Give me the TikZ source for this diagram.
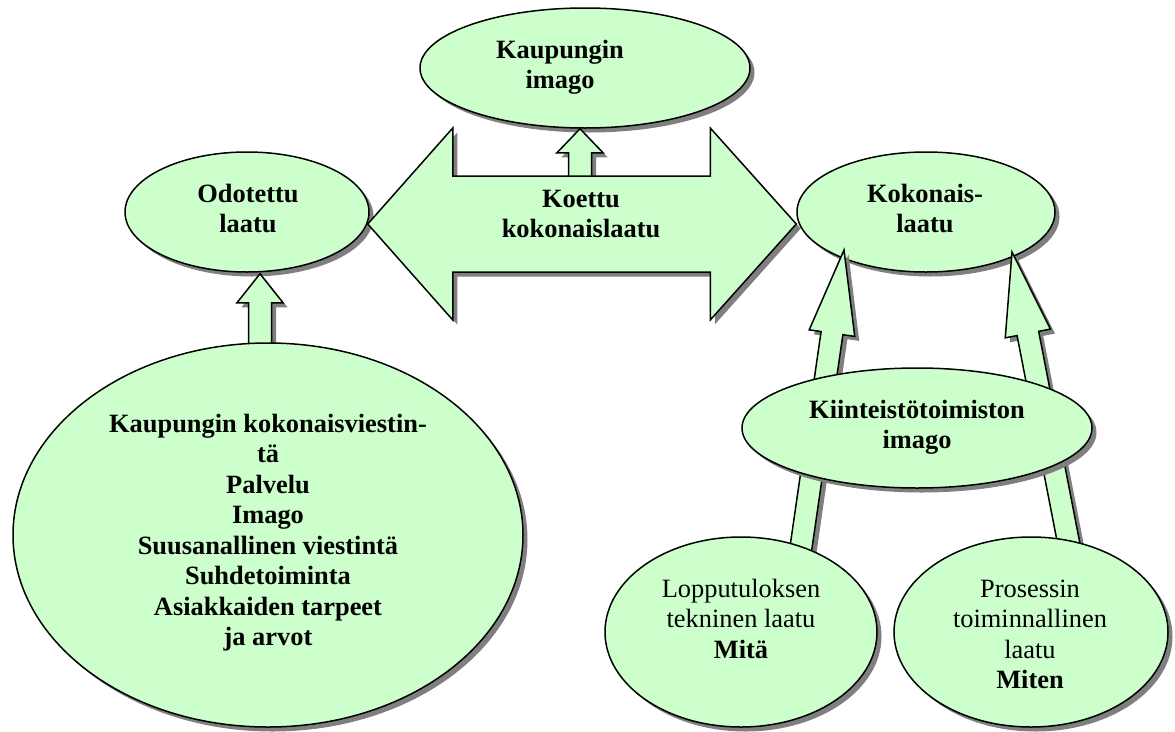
\documentclass[tikz,border=0pt]{standalone}
\usepackage{fontspec}
\setmainfont{Liberation Serif}
\usetikzlibrary{shapes.geometric,shadows,calc}

\definecolor{leaf}{HTML}{CCFFCC}
\definecolor{shade}{HTML}{7F7F7F}

\pgfdeclarelayer{under}
\pgfdeclarelayer{arrows}
\pgfsetlayers{under,arrows,main}

\tikzset{
  boxshadow/.style={drop shadow={shadow xshift=4.5pt, shadow yshift=-4.5pt, fill=shade, opacity=1}},
  bubble/.style={ellipse, draw=black, line width=1.5pt, fill=leaf, inner sep=0pt, boxshadow},
  blockarrow/.style={draw=black, line width=1.5pt, fill=leaf, line join=miter, boxshadow},
  caption/.style={anchor=base, inner sep=0pt, font=\fontsize{26.4}{30.5}\selectfont},
}

% block arrow from #1 to tip #2: shaft half width #3, head half width #4, head length #5
\newcommand{\blockarrowpath}[5]{%
  \coordinate (ba) at ($(#2)!#5!(#1)$);
  \draw[blockarrow] ($(#1)!#3!-90:(#2)$) -- ($(ba)!#3!90:(#1)$) -- ($(ba)!#4!90:(#1)$)
    -- (#2) -- ($(ba)!#4!-90:(#1)$) -- ($(ba)!#3!-90:(#1)$) -- ($(#1)!#3!90:(#2)$) -- cycle;
}

\begin{document}
\begin{tikzpicture}[x=1pt,y=-1pt]
\useasboundingbox (0,0) rectangle (1175,731);

% ellipses that the arrows overlap
\begin{pgfonlayer}{under}
  \node[bubble, minimum width=330pt, minimum height=120pt] (kaupunki) at (585,68) {};
  \node[bubble, minimum width=244pt, minimum height=120pt] (odotettu) at (247,212) {};
  \node[bubble, minimum width=258pt, minimum height=120pt] (kokonais) at (926,212) {};
\end{pgfonlayer}

% ellipses drawn over the arrows
\node[bubble, minimum width=350pt, minimum height=120pt] (kiinteisto) at (917,428) {};
\node[bubble, minimum width=510pt, minimum height=384pt] (viestinta) at (268,535) {};
\node[bubble, minimum width=272pt, minimum height=190pt] (lopputulos) at (741,632) {};
\node[bubble, minimum width=274pt, minimum height=190pt] (prosessi) at (1031,632) {};

% arrows
\begin{pgfonlayer}{arrows}
  % Koettu -> Kaupungin imago
  \coordinate (kk-s) at (580,195);
  \coordinate (kk-t) at ($(kaupunki.south)+(-5,0)$);
  \blockarrowpath{kk-s}{kk-t}{11.5pt}{23pt}{24pt}

  % double arrow between Odotettu laatu and Kokonaislaatu
  \coordinate (dl) at ($(odotettu.east)+(-2,12)$);
  \coordinate (dr) at ($(kokonais.west)+(0,12)$);
  \draw[blockarrow] (dl) -- ++(85,-96) -- ++(0,48) -- ($(dr)+(-86,-48)$) -- ++(0,-48)
    -- (dr) -- ++(-86,96) -- ++(0,-48) -- ($(dl)+(85,48)$) -- ++(0,48) -- cycle;

  % viestinta -> Odotettu laatu
  \coordinate (vo-s) at ($(viestinta.north)+(-8,9)$);
  \coordinate (vo-t) at ($(odotettu.south)+(13,1)$);
  \blockarrowpath{vo-s}{vo-t}{11.5pt}{23pt}{29pt}

  % lower ellipses -> Kokonaislaatu
  \coordinate (lk-s) at ($(lopputulos.center)+(58.6,-75)$);
  \coordinate (lk-t) at ($(kokonais.center)+(-82,38)$);
  \blockarrowpath{lk-s}{lk-t}{11pt}{23pt}{84pt}
  \coordinate (pk-s) at ($(prosessi.center)+(39,-82)$);
  \coordinate (pk-t) at ($(kokonais.center)+(86,40)$);
  \blockarrowpath{pk-s}{pk-t}{11pt}{23pt}{83pt}
\end{pgfonlayer}

% texts
\node[caption] (kaupunki-t) at (560,58) {\bfseries\begin{tabular}[t]{@{}c@{}}Kaupungin\\imago\end{tabular}};
\node[caption] (odotettu-t) at (248,202) {\bfseries\begin{tabular}[t]{@{}c@{}}Odotettu\\laatu\end{tabular}};
\node[caption] (kokonais-t) at (925,202) {\bfseries\begin{tabular}[t]{@{}c@{}}Kokonais-\\laatu\end{tabular}};
\node[caption] (koettu-t) at (581,207) {\bfseries\begin{tabular}[t]{@{}c@{}}Koettu\\kokonaislaatu\end{tabular}};
\node[caption] (kiinteisto-t) at (917,418) {\bfseries\begin{tabular}[t]{@{}c@{}}Kiinteistötoimiston\\imago\end{tabular}};
\node[caption] (viestinta-t) at (268,432) {\bfseries\begin{tabular}[t]{@{}c@{}}Kaupungin kokonaisviestin-\\tä\\Palvelu\\Imago\\Suusanallinen viestintä\\Suhdetoiminta\\Asiakkaiden tarpeet\\ja arvot\end{tabular}};
\node[caption] (lopputulos-t) at (741,597) {\begin{tabular}[t]{@{}c@{}}Lopputuloksen\\tekninen laatu\\\textbf{Mitä}\end{tabular}};
\node[caption] (prosessi-t) at (1030,597) {\begin{tabular}[t]{@{}c@{}}Prosessin\\toiminnallinen\\laatu\\\textbf{Miten}\end{tabular}};
\end{tikzpicture}
\end{document}
